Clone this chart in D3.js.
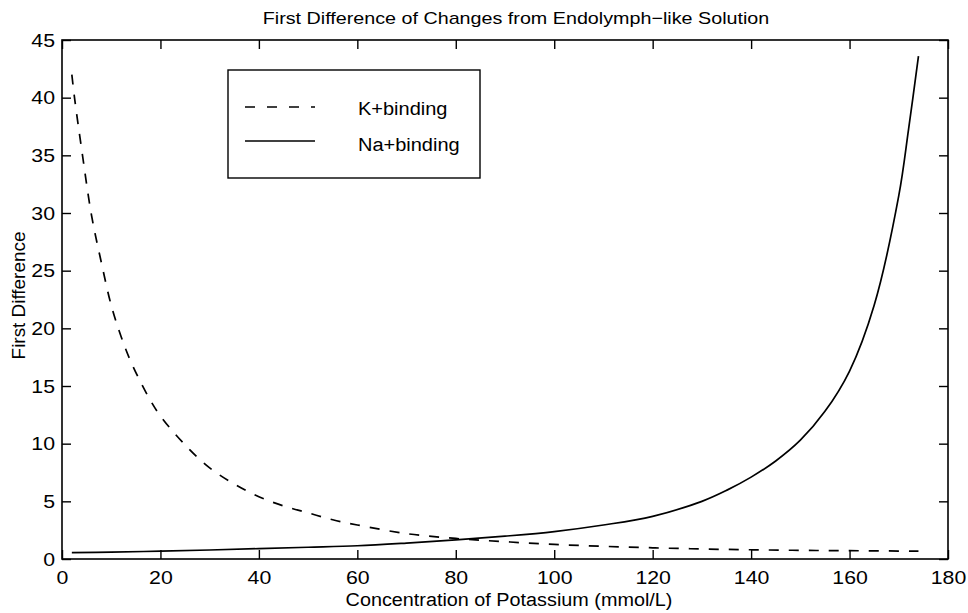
<!DOCTYPE html>
<html>
<head>
<meta charset="utf-8">
<script src="https://cdn.jsdelivr.net/npm/d3@7"></script>
<style>
  html, body { margin: 0; padding: 0; background: #fff; }
  svg { display: block; }
  text { font-family: "Liberation Sans", Arial, Helvetica, sans-serif; fill: #000; }
</style>
</head>
<body>
<svg id="chart" width="968" height="613"></svg>
<script>
// Potassium concentration (mmol/L) and first difference for each binding model
const kX = [2, 2.6, 4, 6, 8, 10, 12, 14, 17.5, 20, 25, 30, 35, 40, 45, 50, 55, 60, 70, 80, 90, 100, 110, 120, 130, 140, 150, 160, 174];
const kY = [42, 39.8, 35.5, 29.8, 25.7, 22.0, 19.3, 17.1, 14.1, 12.4, 9.9, 7.9, 6.5, 5.4, 4.6, 4.0, 3.4, 2.95, 2.2, 1.78, 1.5, 1.26, 1.1, 0.97, 0.87, 0.8, 0.75, 0.72, 0.68];

const naX = [2, 10, 20, 30, 40, 50, 60, 70, 80, 90, 100, 110, 120, 130, 135, 140, 145, 150, 155, 160, 165, 170, 172, 174];
const naY = [0.55, 0.6, 0.68, 0.78, 0.9, 1.02, 1.15, 1.38, 1.65, 1.98, 2.38, 2.95, 3.7, 5.0, 5.95, 7.1, 8.5, 10.3, 12.8, 16.3, 22.0, 31.5, 37.3, 43.6];

const xTicks = [0, 20, 40, 60, 80, 100, 120, 140, 160, 180];
const yTicks = [0, 5, 10, 15, 20, 25, 30, 35, 40, 45];

const seriesNames = ["K+binding", "Na+binding"];
const titleText = "First Difference of Changes from Endolymph\u2212like Solution";
const xLabel = "Concentration of Potassium (mmol/L)";
const yLabel = "First Difference";

const svg = d3.select("#chart");
const plotL = 62, plotR = 948, plotT = 40, plotB = 559;

const x = d3.scaleLinear().domain([0, 180]).range([plotL, plotR]);
const y = d3.scaleLinear().domain([0, 45]).range([plotB, plotT]);

const tickLen = 9;
const fontSize = 19;
const widen = 1.12; // the lettering is set a little wider than the stock face

// Stretch a text element horizontally to the given factor of its natural width
function stretch(sel, factor) {
  sel.each(function () {
    const w = this.getComputedTextLength();
    if (w > 0) {
      d3.select(this).attr("textLength", w * factor).attr("lengthAdjust", "spacingAndGlyphs");
    }
  });
}

// Axes: ticks point inward on all four sides, labels only on bottom and left
const gB = svg.append("g").attr("transform", `translate(0,${plotB})`)
  .call(d3.axisBottom(x).tickValues(xTicks).tickSizeInner(-tickLen).tickSizeOuter(0).tickPadding(12));
const gT = svg.append("g").attr("transform", `translate(0,${plotT})`)
  .call(d3.axisTop(x).tickValues(xTicks).tickSizeInner(-tickLen).tickSizeOuter(0).tickFormat(""));
const gL = svg.append("g").attr("transform", `translate(${plotL},0)`)
  .call(d3.axisLeft(y).tickValues(yTicks).tickSizeInner(-tickLen).tickSizeOuter(0).tickPadding(7));
const gR = svg.append("g").attr("transform", `translate(${plotR},0)`)
  .call(d3.axisRight(y).tickValues(yTicks).tickSizeInner(-tickLen).tickSizeOuter(0).tickFormat(""));

[gB, gT, gL, gR].forEach(g => {
  g.select(".domain").remove();
  g.selectAll(".tick line").attr("stroke", "#000").attr("stroke-width", 1.4);
  const t = g.selectAll(".tick text")
    .style("font-family", '"Liberation Sans", Arial, Helvetica, sans-serif')
    .style("font-size", fontSize + "px").attr("fill", "#000");
  stretch(t, widen);
});

// Frame
svg.append("rect")
  .attr("x", plotL).attr("y", plotT)
  .attr("width", plotR - plotL).attr("height", plotB - plotT)
  .attr("fill", "none").attr("stroke", "#000").attr("stroke-width", 1.6);

// Curves
const line = d3.line().x(d => x(d[0])).y(d => y(d[1])).curve(d3.curveCatmullRom.alpha(0.5));
const kData = kX.map((v, i) => [v, kY[i]]);
const naData = naX.map((v, i) => [v, naY[i]]);

svg.append("path").datum(kData).attr("d", line)
  .attr("fill", "none").attr("stroke", "#000").attr("stroke-width", 1.7)
  .attr("stroke-dasharray", "10,10");
svg.append("path").datum(naData).attr("d", line)
  .attr("fill", "none").attr("stroke", "#000").attr("stroke-width", 1.7);

// Legend
const lg = svg.append("g");
lg.append("rect").attr("x", 228).attr("y", 70).attr("width", 252).attr("height", 108)
  .attr("fill", "#fff").attr("stroke", "#000").attr("stroke-width", 1.4);
const legendRows = [
  { name: seriesNames[0], dash: "10,12", y: 107, base: 115 },
  { name: seriesNames[1], dash: null, y: 141, base: 150.5 }
];
legendRows.forEach(r => {
  const ln = lg.append("line").attr("x1", 245).attr("x2", 315).attr("y1", r.y).attr("y2", r.y)
    .attr("stroke", "#000").attr("stroke-width", 1.5);
  if (r.dash) ln.attr("stroke-dasharray", r.dash);
  const t = lg.append("text").attr("x", 358).attr("y", r.base)
    .style("font-size", "18px").text(r.name);
  stretch(t, 1.11);
});

// Titles
const tt = svg.append("text").attr("x", 516).attr("y", 24)
  .attr("text-anchor", "middle").style("font-size", "17px").text(titleText);
stretch(tt, 1.16);
const xl = svg.append("text").attr("x", 509).attr("y", 605.5)
  .attr("text-anchor", "middle").style("font-size", "18px").text(xLabel);
stretch(xl, 1.10);
const yl = svg.append("text").attr("transform", `translate(25,${(plotT + plotB) / 2 - 4}) rotate(-90)`)
  .attr("text-anchor", "middle").style("font-size", "18px").text(yLabel);
stretch(yl, 1.05);
</script>
</body>
</html>
